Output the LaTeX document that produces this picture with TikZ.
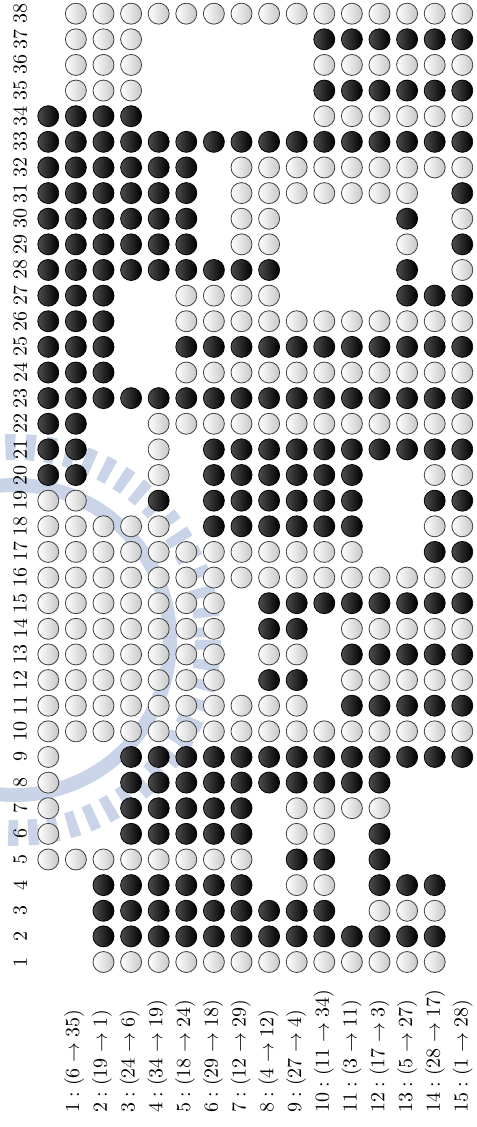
\documentclass[tikz,border=0pt]{standalone}
\definecolor{wmblue}{RGB}{202,212,232}
\newcount\jcnt
\def\stonecol#1#2{\def\colk{#1}\global\jcnt=0 \stoneparse#2\relax}
\def\stoneparse#1{%
  \ifx\relax#1\let\stonenext\relax\else
    \global\advance\jcnt by 1
    \ifx w#1\node[wstone] (s\colk-\the\jcnt) at ({48.3+27.6*\colk},{962-25.63*(\the\jcnt-1)}) {};\fi
    \ifx b#1\node[bstone] (s\colk-\the\jcnt) at ({48.3+27.6*\colk},{962-25.63*(\the\jcnt-1)}) {};\fi
    \let\stonenext\stoneparse
  \fi\stonenext}
\begin{document}
\begin{tikzpicture}[x=0.5pt,y=-0.5pt,
  wstone/.style={circle,draw=black!75,line width=0.4pt,inner sep=0pt,minimum size=10.5pt,left color=white,right color=black!22},
  bstone/.style={circle,draw=black,line width=0.4pt,inner sep=0pt,minimum size=10.5pt,left color=black!70,right color=black},
  collabel/.style={rotate=90,inner sep=0pt},
  rowlabel/.style={rotate=90,anchor=base west,inner sep=0pt},
  wm/.style={draw=wmblue}]
\useasboundingbox (0,0) rectangle (476,1127);
% faint watermark
\coordinate (wmc) at (15,640);
\draw[wm,line width=13pt,dash pattern=on 5pt off 5pt] (wmc) circle[radius=193];
\draw[wm,line width=7pt] (wmc) circle[radius=155];
% column numbers
\foreach \j in {1,...,38}
  \node[collabel] (cl\j) at (20.3,{962-25.63*(\j-1)}) {\j};
% row labels
\foreach \k/\a/\b in {1/6/35,2/19/1,3/24/6,4/34/19,5/18/24,6/29/18,7/12/29,8/4/12,9/27/4,10/11/34,11/3/11,12/17/3,13/5/27,14/28/17,15/1/28}
  \node[rowlabel] (rl\k) at ({51.25+27.75*\k},1113) {$\k : (\a \rightarrow \b)$};
% stones
\stonecol{0}{....wwwwwwwwwwwwwwwbbbbbbbbbbbbbbb....}
\stonecol{1}{....w....wwwwwwwwwwbbbbbbbbbbbbbbbwwww}
\stonecol{2}{wbbbw....wwwwwwwww....bbbbbbbbbbbbwwww}
\stonecol{3}{wbbbwbbbbwwwwwwwww....b....bbbbbbbwwww}
\stonecol{4}{wbbbwbbbbwwwwwwwwwbwwwb....bbbbbb....w}
\stonecol{5}{wbbbwbbbbwwwwwwww....wbwbwwbbbbbb....w}
\stonecol{6}{wbbbwbbbbwwwwwwwwbbbbwbwbwwb....b....w}
\stonecol{7}{wbbbwbbbbww....wwbbbbwbwbwwbwwwwb....w}
\stonecol{8}{wbb....bbwwbwbbwwbbbbwbwbwwbwwwwb....w}
\stonecol{9}{wbbwbwwbbwwbwbbwwbbbbwbwbw....wwb....w}
\stonecol{10}{wbbwbwwbbw....bwwbbbbwbwbw....wwbwbwbw}
\stonecol{11}{wb....wbbwbwbwbwwbbbbwbwbw....wwbwbwbw}
\stonecol{12}{wbwbbbwbbwbwbwbw....bwbwbw....wwbwbwbw}
\stonecol{13}{wbwb....bwbwbwbw....bwbwbwbbwbwwbwbwbw}
\stonecol{14}{wbwb....bwbwbwbwbwbwbwbwbwb....wbwbwbw}
\stonecol{15}{........bwbwbwbwbwbwbwbwbwbwbwbwbwbwbw}
\end{tikzpicture}
\end{document}
